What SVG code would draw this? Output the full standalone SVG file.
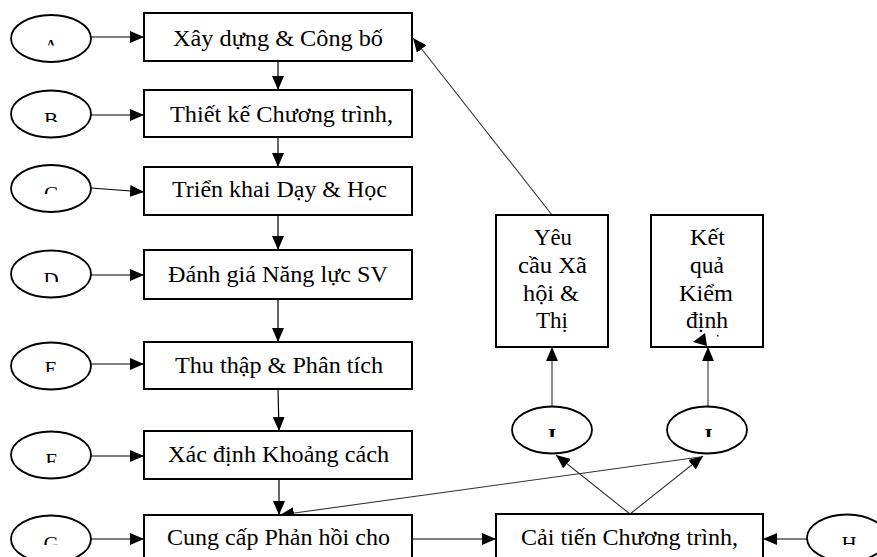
<svg xmlns="http://www.w3.org/2000/svg" width="877" height="557" viewBox="0 0 877 557">
<style>
.box{fill:#fff;stroke:#000;stroke-width:2}
.ell{fill:#fff;stroke:#000;stroke-width:1.8}
.t{font-family:"Liberation Serif","Times New Roman",serif;font-size:23px;fill:#000}
.lt{font-family:"Liberation Serif","Times New Roman",serif;font-size:21px;fill:#000;text-anchor:middle}
.ln{fill:none;stroke:#000;stroke-width:1.2}
.dg{fill:none;stroke:#333;stroke-width:1.1}
</style>
<defs>
<marker id="ah" viewBox="0 0 14 12" refX="14" refY="6" markerWidth="14" markerHeight="12" markerUnits="userSpaceOnUse" orient="auto">
<path d="M0,0 L14,6 L0,12 z" fill="#000"/>
</marker>
<clipPath id="cA"><rect x="30" y="30" width="42" height="15.5"/></clipPath>
<clipPath id="cB"><rect x="30" y="100" width="42" height="22"/></clipPath>
<clipPath id="cC"><rect x="30" y="175" width="42" height="19"/></clipPath>
<clipPath id="cD"><rect x="30" y="260" width="42" height="22"/></clipPath>
<clipPath id="cE"><rect x="30" y="350" width="42" height="22"/></clipPath>
<clipPath id="cF"><rect x="30" y="440" width="42" height="23"/></clipPath>
<clipPath id="cG"><rect x="30" y="525" width="42" height="20"/></clipPath>
<clipPath id="cH"><rect x="828" y="525" width="42" height="20"/></clipPath>
<clipPath id="cI"><rect x="531" y="418" width="42" height="19"/></clipPath>
<clipPath id="cJ"><rect x="686" y="418" width="42" height="19"/></clipPath>
</defs>

<g id="connectors">
<line class="ln" x1="91" y1="37" x2="144" y2="37" marker-end="url(#ah)"/>
<line class="ln" x1="91" y1="115" x2="144" y2="115" marker-end="url(#ah)"/>
<line class="ln" x1="91" y1="188" x2="144" y2="192" marker-end="url(#ah)"/>
<line class="ln" x1="91" y1="275" x2="144" y2="275" marker-end="url(#ah)"/>
<line class="ln" x1="91" y1="364" x2="144" y2="364" marker-end="url(#ah)"/>
<line class="ln" x1="91" y1="456" x2="144" y2="456" marker-end="url(#ah)"/>
<line class="ln" x1="91" y1="539" x2="144" y2="539" marker-end="url(#ah)"/>
<line class="ln" x1="278" y1="61" x2="278" y2="90" marker-end="url(#ah)"/>
<line class="ln" x1="278" y1="137" x2="278" y2="167" marker-end="url(#ah)"/>
<line class="ln" x1="278" y1="215" x2="278" y2="250" marker-end="url(#ah)"/>
<line class="ln" x1="278" y1="299" x2="278" y2="342" marker-end="url(#ah)"/>
<line class="ln" x1="278" y1="389" x2="279" y2="431" marker-end="url(#ah)"/>
<line class="ln" x1="279" y1="479" x2="279" y2="515" marker-end="url(#ah)"/>
<line class="ln" x1="412" y1="539" x2="496" y2="539" marker-end="url(#ah)"/>
<line class="ln" x1="807" y1="539" x2="763" y2="539" marker-end="url(#ah)"/>
<line class="dg" x1="552" y1="215" x2="413" y2="38" marker-end="url(#ah)"/>
<line class="dg" x1="552" y1="406" x2="552" y2="347" marker-end="url(#ah)"/>
<line class="dg" x1="708" y1="406" x2="708" y2="347" marker-end="url(#ah)"/>
<line class="dg" x1="630" y1="514" x2="556" y2="455" marker-end="url(#ah)"/>
<line class="dg" x1="630" y1="514" x2="703" y2="456" marker-end="url(#ah)"/>
<line class="dg" x1="700" y1="457" x2="280" y2="515" marker-end="url(#ah)"/>
</g>

<g id="nA"><ellipse class="ell" cx="51" cy="38.5" rx="40" ry="23.5"/><text class="lt" x="51" y="54" clip-path="url(#cA)">A</text></g>
<g id="nB"><ellipse class="ell" cx="51" cy="114" rx="40" ry="23.5"/><text class="lt" x="51" y="127" clip-path="url(#cB)">B</text></g>
<g id="nC"><ellipse class="ell" cx="51" cy="188.5" rx="40" ry="23.5"/><text class="lt" x="51" y="201" clip-path="url(#cC)">C</text></g>
<g id="nD"><ellipse class="ell" cx="51" cy="274" rx="40" ry="23.5"/><text class="lt" x="51" y="287" clip-path="url(#cD)">D</text></g>
<g id="nE"><ellipse class="ell" cx="51" cy="366" rx="40" ry="23.5"/><text class="lt" x="51" y="376" clip-path="url(#cE)">E</text></g>
<g id="nF"><ellipse class="ell" cx="51" cy="455" rx="40" ry="23.5"/><text class="lt" x="51" y="468" clip-path="url(#cF)">F</text></g>
<g id="nG"><ellipse class="ell" cx="51" cy="539" rx="40" ry="23.5"/><text class="lt" x="51" y="551" clip-path="url(#cG)">G</text></g>
<g id="nH"><ellipse class="ell" cx="847" cy="538" rx="40" ry="23.5"/><text class="lt" x="849" y="551" clip-path="url(#cH)">H</text></g>
<g id="nI"><ellipse class="ell" cx="552" cy="430" rx="40" ry="23.5"/><text class="lt" x="552" y="443" font-weight="bold" clip-path="url(#cI)">I</text></g>
<g id="nJ"><ellipse class="ell" cx="707" cy="430" rx="40" ry="23.5"/><text class="lt" x="707" y="443" font-weight="bold" clip-path="url(#cJ)">J</text></g>

<g id="b1"><rect class="box" x="144" y="13" width="268" height="48"/><text class="t" x="173" y="45.5" textLength="210" lengthAdjust="spacingAndGlyphs">Xây dựng &amp; Công bố</text></g>
<g id="b2"><rect class="box" x="144" y="90" width="268" height="47"/><text class="t" x="170" y="122" textLength="223" lengthAdjust="spacingAndGlyphs">Thiết kế Chương trình,</text></g>
<g id="b3"><rect class="box" x="144" y="167" width="268" height="48"/><text class="t" x="172" y="197" textLength="215" lengthAdjust="spacingAndGlyphs">Triển khai Dạy &amp; Học</text></g>
<g id="b4"><rect class="box" x="144" y="250" width="268" height="49"/><text class="t" x="168" y="281.5" textLength="220" lengthAdjust="spacingAndGlyphs">Đánh giá Năng lực SV</text></g>
<g id="b5"><rect class="box" x="144" y="342" width="268" height="47"/><text class="t" x="175" y="372.5" textLength="208" lengthAdjust="spacingAndGlyphs">Thu thập &amp; Phân tích</text></g>
<g id="b6"><rect class="box" x="144" y="431" width="268" height="48"/><text class="t" x="168" y="461.5" textLength="221" lengthAdjust="spacingAndGlyphs">Xác định Khoảng cách</text></g>
<g id="b7"><rect class="box" x="144" y="515" width="268" height="50"/><text class="t" x="167" y="545" textLength="223" lengthAdjust="spacingAndGlyphs">Cung cấp Phản hồi cho</text></g>
<g id="b8"><rect class="box" x="496" y="514" width="267" height="50"/><text class="t" x="521" y="545" textLength="217" lengthAdjust="spacingAndGlyphs">Cải tiến Chương trình,</text></g>
<g id="b9"><rect class="box" x="496" y="215" width="112" height="132"/>
<text class="t" x="534" y="245" textLength="38" lengthAdjust="spacingAndGlyphs">Yêu</text>
<text class="t" x="518" y="273" textLength="69" lengthAdjust="spacingAndGlyphs">cầu Xã</text>
<text class="t" x="523" y="301" textLength="56" lengthAdjust="spacingAndGlyphs">hội &amp;</text>
<text class="t" x="536" y="328" textLength="32" lengthAdjust="spacingAndGlyphs">Thị</text></g>
<g id="b10"><rect class="box" x="651" y="215" width="112" height="132"/>
<text class="t" x="690" y="245" textLength="35" lengthAdjust="spacingAndGlyphs">Kết</text>
<text class="t" x="690" y="273" textLength="34" lengthAdjust="spacingAndGlyphs">quả</text>
<text class="t" x="679" y="301" textLength="54" lengthAdjust="spacingAndGlyphs">Kiểm</text>
<text class="t" x="686" y="328" textLength="42" lengthAdjust="spacingAndGlyphs">định</text>
<polygon points="705,333 693,342 707,346" fill="#000"/>
<rect x="717" y="335" width="1.5" height="1.5" fill="#000"/></g>
</svg>
